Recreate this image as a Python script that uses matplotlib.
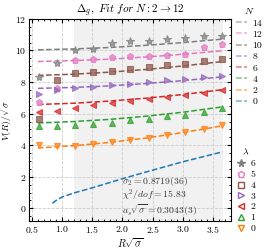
import matplotlib
matplotlib.use("Agg")
import matplotlib.pyplot as plt
from matplotlib.lines import Line2D
import numpy as np

plt.rcParams.update({
    "font.family": "serif",
    "font.serif": ["cmr10", "DejaVu Serif"],
    "mathtext.fontset": "cm",
    "axes.formatter.use_mathtext": True,
    "font.size": 7,
    "axes.linewidth": 0.8,
    "xtick.direction": "in", "ytick.direction": "in",
    "xtick.top": True, "ytick.right": True,
    "xtick.minor.visible": True, "ytick.minor.visible": True,
    "xtick.major.size": 3, "ytick.major.size": 3,
    "xtick.minor.size": 1.5, "ytick.minor.size": 1.5,
    "xtick.major.pad": 2, "ytick.major.pad": 2,
    "xtick.labelsize": 7, "ytick.labelsize": 7,
})

# data points: R*sqrt(sigma) for R/a = 2..12
R = np.array([0.61, 0.91, 1.22, 1.52, 1.83, 2.13, 2.44, 2.74, 3.04, 3.35, 3.65])
V_lam6 = [8.30, 9.20, 10.00, 10.10, 10.47, 10.57, 10.63, 10.70, 10.78, 10.92, 10.90]
V_lam5 = [6.72, 7.60, 9.37, 9.46, 9.58, 9.62, 9.64, 9.70, 9.80, 10.20, 10.40]
V_lam4 = [5.67, 8.13, 8.55, 8.63, 8.72, 8.81, 8.94, 9.07, 9.16, 9.31, 9.46]
V_lam3 = [7.22, 7.50, 7.62, 7.70, 7.81, 7.90, 8.00, 8.15, 8.21, 8.29, 8.36]
V_lam2 = [6.10, 6.15, 6.38, 6.55, 6.68, 6.80, 6.94, 7.04, 7.18, 7.33, 7.52]
V_lam1 = [5.22, 5.22, 5.27, 5.36, 5.43, 5.60, 5.68, 5.86, 5.94, 6.13, 6.33]
V_lam0 = [4.02, 3.98, 3.98, 4.08, 4.19, 4.31, 4.46, 4.67, 4.84, 5.03, 5.30]
E_lam6 = [0.10, 0.10, 0.25, 0.20, 0.10, 0.10, 0.10, 0.10, 0.12, 0.12, 0.25]
E_lam5 = [0.08, 0.08, 0.10, 0.10, 0.10, 0.10, 0.12, 0.15, 0.15, 0.12, 0.15]
E_lam4 = [0.08, 0.10, 0.12, 0.10, 0.10, 0.10, 0.12, 0.12, 0.12, 0.12, 0.15]
E_lam3 = [0.05, 0.05, 0.05, 0.05, 0.05, 0.06, 0.06, 0.06, 0.06, 0.06, 0.08]
E_lam2 = [0.05, 0.05, 0.06, 0.06, 0.06, 0.06, 0.06, 0.08, 0.08, 0.08, 0.10]
E_lam1 = [0.05, 0.05, 0.06, 0.06, 0.06, 0.06, 0.06, 0.08, 0.08, 0.08, 0.10]
E_lam0 = [0.05, 0.05, 0.05, 0.05, 0.05, 0.05, 0.06, 0.06, 0.06, 0.08, 0.10]

# fit curves, read at a few R values
x_fit = [0.60, 1.20, 1.80, 2.40, 3.00, 3.66]
fit_N14 = [10.04, 10.10, 10.19, 10.33, 10.50, 10.72]
fit_N12 = [9.30, 9.36, 9.45, 9.59, 9.76, 9.98]
fit_N10 = [8.42, 8.50, 8.63, 8.80, 9.02, 9.30]
fit_N8 = [7.60, 7.66, 7.76, 7.91, 8.09, 8.33]
fit_N6 = [6.58, 6.66, 6.80, 6.98, 7.21, 7.52]
fit_N4 = [5.41, 5.50, 5.64, 5.84, 6.09, 6.43]
fit_N2 = [3.83, 3.97, 4.18, 4.46, 4.80, 5.23]
x_fit0 = [0.84, 0.90, 1.00, 1.20, 1.50, 2.00, 2.50, 3.00, 3.66]
fit_N0 = [0.32, 0.50, 0.72, 0.98, 1.30, 1.88, 2.42, 2.95, 3.58]

COL = {"0": "#1f77b4", "2": "#ff7f0e", "4": "#2ca02c", "6": "#d62728",
       "8": "#9467bd", "10": "#8c564b", "12": "#e377c2", "14": "#7f7f7f"}

points = [("6", V_lam6, E_lam6, "*", COL["14"]),
          ("5", V_lam5, E_lam5, "p", COL["12"]),
          ("4", V_lam4, E_lam4, "s", COL["10"]),
          ("3", V_lam3, E_lam3, ">", COL["8"]),
          ("2", V_lam2, E_lam2, "<", COL["6"]),
          ("1", V_lam1, E_lam1, "^", COL["4"]),
          ("0", V_lam0, E_lam0, "v", COL["2"])]

fits = [("14", x_fit, fit_N14), ("12", x_fit, fit_N12), ("10", x_fit, fit_N10),
        ("8", x_fit, fit_N8), ("6", x_fit, fit_N6), ("4", x_fit, fit_N4),
        ("2", x_fit, fit_N2), ("0", x_fit0, fit_N0)]

fig = plt.figure(figsize=(2.68, 2.52), dpi=100)
ax = fig.add_axes([0.11, 0.123, 0.752, 0.802])

ax.axvspan(1.2, 3.66, color="#d9d9d9", alpha=0.35, lw=0, zorder=0)
ax.grid(True, which="major", ls="--", lw=0.6, color="#cccccc", zorder=0.5)

fit_handles = []
for n, xs, ys in fits:
    ax.plot(xs, ys, ls="--", lw=1.1, color=COL[n], zorder=2)
    fit_handles.append(Line2D([], [], ls="--", lw=1.1, color=COL[n], alpha=0.6, label=n))

pt_handles = []
for lam, ys, es, m, c in points:
    ms = 6 if m == "*" else 5
    ax.errorbar(R, ys, yerr=es, fmt=m, ms=ms, color=c, mfc=c, mec=c, mew=0.8,
                alpha=0.75, ecolor="white", elinewidth=0.6, capsize=1.5, capthick=0.6,
                zorder=3)
    pt_handles.append(Line2D([], [], ls="", marker=m, ms=ms - 0.5, color=c,
                             mfc=c if m == "*" else "none", mew=1.0, label=lam))

ax.text(2.0, 1.7, r"$\sigma_2 = 0.8719(36)$", fontsize=7, color="#333333", va="center")
ax.text(2.0, 0.82, r"$\chi^2/dof = 15.83$", fontsize=7, color="#333333", va="center")
ax.text(2.0, -0.1, r"$a_s\sqrt{\sigma} = 0.3043(3)$", fontsize=7, color="#333333", va="center")

ax.set_xlim(0.46, 3.8)
ax.set_ylim(-0.8, 12)
ax.set_xticks([0.5, 1.0, 1.5, 2.0, 2.5, 3.0, 3.5])
ax.set_yticks([0, 2, 4, 6, 8, 10, 12])
ax.xaxis.set_minor_locator(matplotlib.ticker.MultipleLocator(0.1))
ax.yaxis.set_minor_locator(matplotlib.ticker.MultipleLocator(0.5))
ax.set_xlabel(r"$R\sqrt{\sigma}$", fontsize=7.5, labelpad=1)
ax.set_ylabel(r"$V(R)/\sqrt{\sigma}$", fontsize=7)
ax.yaxis.set_label_coords(-0.075, 0.5)
ax.set_title(r"$\Delta_g,\ Fit\ for\ N:2\rightarrow 12$", fontsize=8, pad=4)

fig.legend(handles=fit_handles, title=r"$N$", loc="upper left",
           bbox_to_anchor=(0.865, 0.99), frameon=False, fontsize=7,
           title_fontsize=7, handlelength=1.2, handletextpad=0.5,
           labelspacing=0.25, borderaxespad=0)
fig.legend(handles=pt_handles, title=r"$\lambda$", loc="upper left",
           bbox_to_anchor=(0.865, 0.43), frameon=False, fontsize=7,
           title_fontsize=7, handlelength=1.0, handletextpad=0.5,
           labelspacing=0.2, borderaxespad=0)

fig.savefig("out.png", dpi=100)
